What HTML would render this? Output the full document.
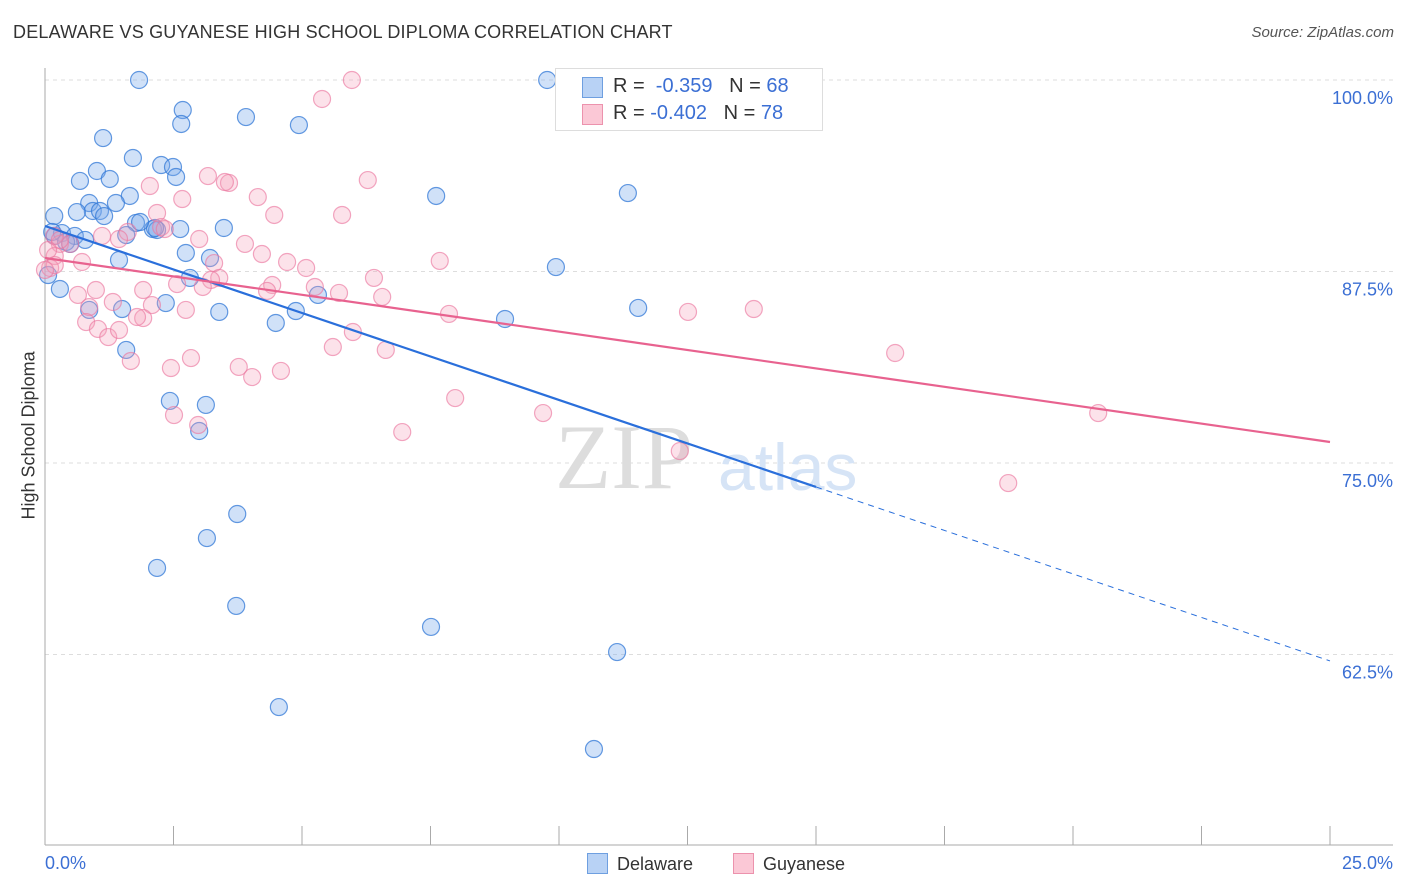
<!DOCTYPE html>
<html><head><meta charset="utf-8">
<style>
body{margin:0;background:#fff;font-family:"Liberation Sans",sans-serif;}
#wrap{position:relative;width:1406px;height:892px;overflow:hidden;}
.t{position:absolute;white-space:nowrap;}
</style></head><body>
<div id="wrap">
<div class="t" style="left:13px;top:22px;font-size:18px;color:#333;letter-spacing:0.2px">DELAWARE VS GUYANESE HIGH SCHOOL DIPLOMA CORRELATION CHART</div>
<div class="t" style="right:12px;top:24px;font-size:15px;color:#555;font-style:italic">Source: ZipAtlas.com</div>
<div class="t" style="left:-36px;top:444px;font-size:18px;color:#333;transform:rotate(-90deg);width:130px;text-align:center">High School Diploma</div>
<svg id="svg" width="1406" height="892" style="position:absolute;left:0;top:0"></svg>
<div class="t" style="left:555px;top:68px;width:266px;height:61px;border:1px solid #ddd;background:#fff;font-size:20px;color:#333">
 <div style="position:absolute;left:26px;top:8px;width:19px;height:19px;background:#b8d2f5;border:1px solid #6e9fe0"></div>
 <div class="t" style="left:57px;top:6px">R = <span style="color:#3b6fd4">&nbsp;-0.359</span>&nbsp;&nbsp;&nbsp;N = <span style="color:#3b6fd4">68</span></div>
 <div style="position:absolute;left:26px;top:35px;width:19px;height:19px;background:#fbc8d6;border:1px solid #ec92ad"></div>
 <div class="t" style="left:57px;top:33px">R = <span style="color:#3b6fd4">-0.402</span>&nbsp;&nbsp;&nbsp;N = <span style="color:#3b6fd4">78</span></div>
</div>
<div class="t" style="left:587px;top:853px;font-size:18px;color:#333"><span style="display:inline-block;width:19px;height:19px;background:#b8d2f5;border:1px solid #6e9fe0;vertical-align:-4px;margin-right:9px"></span>Delaware</div>
<div class="t" style="left:733px;top:853px;font-size:18px;color:#333"><span style="display:inline-block;width:19px;height:19px;background:#fbc8d6;border:1px solid #ec92ad;vertical-align:-4px;margin-right:9px"></span>Guyanese</div>
</div>
<script>
const xTicks=[0,2.5,5,7.5,10,12.5,15,17.5,20,22.5,25];
const yTicks=[100,87.5,75,62.5];
const yTickLabels=["100.0%","87.5%","75.0%","62.5%"];
const xEndLabels=["0.0%","25.0%"];
const blueX=[1.83,9.77,2.68,2.65,3.91,4.94,1.13,1.71,2.26,2.49,1.01,0.68,1.26,2.55,1.65,7.61,11.34,1.38,0.86,0.93,1.07,0.62,0.18,1.15,1.77,3.48,2.10,2.18,0.33,0.58,0.78,0.19,1.58,2.74,3.21,1.44,9.94,2.82,0.29,5.31,2.35,0.86,1.50,3.39,4.88,11.54,4.49,8.95,1.58,2.43,3.13,3.00,3.74,3.15,2.18,3.72,7.51,11.13,4.55,10.68,0.06,0.41,0.14,0.49,2.63,2.14,1.85];
const blueY=[100,100,98.04,97.13,97.58,97.06,96.21,94.91,94.45,94.32,94.06,93.41,93.54,93.67,92.43,92.43,92.62,91.97,91.97,91.45,91.45,91.38,91.12,91.12,90.67,90.34,90.27,90.21,90.01,89.82,89.56,89.82,89.88,88.71,88.38,88.25,87.79,87.08,86.36,85.97,85.44,84.99,85.05,84.86,84.92,85.12,84.14,84.40,82.38,79.05,78.79,77.09,71.67,70.10,68.15,65.67,64.30,62.66,59.07,56.33,87.27,89.43,90.08,89.30,90.27,90.34,90.73];
const pinkX=[5.97,5.39,3.58,3.50,3.17,2.04,2.67,4.14,6.28,4.46,5.78,2.18,2.26,2.33,1.61,1.11,1.44,3.00,0.18,0.29,0.49,3.89,4.22,0.72,3.29,4.71,5.08,7.68,0.19,6.40,3.39,3.23,4.42,4.32,5.25,5.72,6.56,1.91,2.57,3.07,0.64,0.99,1.32,2.08,2.74,7.86,0.86,12.51,13.79,0.80,1.91,1.79,1.03,1.23,1.44,5.99,5.60,6.63,2.84,1.67,2.45,3.77,4.03,4.59,16.54,7.98,9.69,20.49,2.51,2.98,6.95,12.35,18.74,0.10,0.19,0.00,0.29,0.06];
const pinkY=[100,98.76,93.28,93.34,93.73,93.08,92.23,92.36,93.47,91.19,91.19,91.32,90.40,90.27,90.08,89.82,89.62,89.62,89.82,89.30,89.30,89.30,88.64,88.12,88.05,88.12,87.73,88.19,88.51,87.08,87.08,86.95,86.62,86.23,86.49,86.10,85.84,86.29,86.68,86.49,85.97,86.29,85.51,85.31,84.99,84.73,85.18,84.86,85.05,84.20,84.46,84.53,83.75,83.22,83.68,83.55,82.57,82.38,81.85,81.66,81.20,81.27,80.61,81.01,82.18,79.24,78.26,78.26,78.13,77.48,77.02,75.78,73.69,87.73,87.92,87.60,89.56,88.90];
const blueTrend=[90.47,62.08]; const blueSolidEnd=15;
const pinkTrend=[88.38,76.37];
const X=v=>45+v/25*1285, Y=v=>80+(100-v)/12.5*191.5;
const svg=document.getElementById('svg'), NS='http://www.w3.org/2000/svg';
function mk(tag,a,name){const e=document.createElementNS(NS,tag);for(const k in a)e.setAttribute(k,a[k]);


svg.appendChild(e);return e;}
yTicks.forEach((t,i)=>{mk('line',{x1:45,x2:1393,y1:Y(t),y2:Y(t),stroke:'#ddd','stroke-dasharray':'4,4'},'y-gridline');
const tx=mk('text',{x:1393,y:Y(t)+24,'text-anchor':'end','font-size':18,fill:'#3b6fd4','font-family':'Liberation Sans'},'y-tick-label');tx.textContent=yTickLabels[i];});
mk('line',{x1:45,x2:45,y1:68,y2:845,stroke:'#aaa'},'y-axis');
mk('line',{x1:45,x2:1393,y1:845,y2:845,stroke:'#aaa'},'x-axis');
xTicks.forEach(t=>mk('line',{x1:X(t),x2:X(t),y1:826,y2:845,stroke:'#aaa'},'x-tick'));
let l=mk('text',{x:45,y:869,'font-size':18,fill:'#3b6fd4','font-family':'Liberation Sans'},'x-min-label');l.textContent=xEndLabels[0];
l=mk('text',{x:1393,y:869,'text-anchor':'end','font-size':18,fill:'#3b6fd4','font-family':'Liberation Sans'},'x-max-label');l.textContent=xEndLabels[1];
let w=mk('text',{x:555,y:488,'font-size':92,fill:'#ddd','font-family':'Liberation Serif'},'watermark-zip');w.textContent='ZIP';
w=mk('text',{x:718,y:490,'font-size':66,fill:'#d6e4f6','font-family':'Liberation Sans'},'watermark-atlas');w.textContent='atlas';
blueX.forEach((x,i)=>mk('circle',{cx:X(x),cy:Y(blueY[i]),r:8.5,fill:'rgba(120,170,235,0.35)',stroke:'rgba(50,120,215,0.75)','stroke-width':1.2},'delaware-point'));
pinkX.forEach((x,i)=>mk('circle',{cx:X(x),cy:Y(pinkY[i]),r:8.5,fill:'rgba(245,160,185,0.3)',stroke:'rgba(235,120,160,0.65)','stroke-width':1.2},'guyanese-point'));
const by=x=>blueTrend[0]+(blueTrend[1]-blueTrend[0])*x/25;
mk('line',{x1:X(0),y1:Y(by(0)),x2:X(blueSolidEnd),y2:Y(by(blueSolidEnd)),stroke:'#2a6fdb','stroke-width':2.2},'delaware-trendline');
mk('line',{x1:X(blueSolidEnd),y1:Y(by(blueSolidEnd)),x2:X(25),y2:Y(by(25)),stroke:'#2a6fdb','stroke-width':1,'stroke-dasharray':'6,5'},'delaware-trendline-extension');
mk('line',{x1:X(0),y1:Y(pinkTrend[0]),x2:X(25),y2:Y(pinkTrend[1]),stroke:'#e8628f','stroke-width':2.2},'guyanese-trendline');
</script>
</body></html>
